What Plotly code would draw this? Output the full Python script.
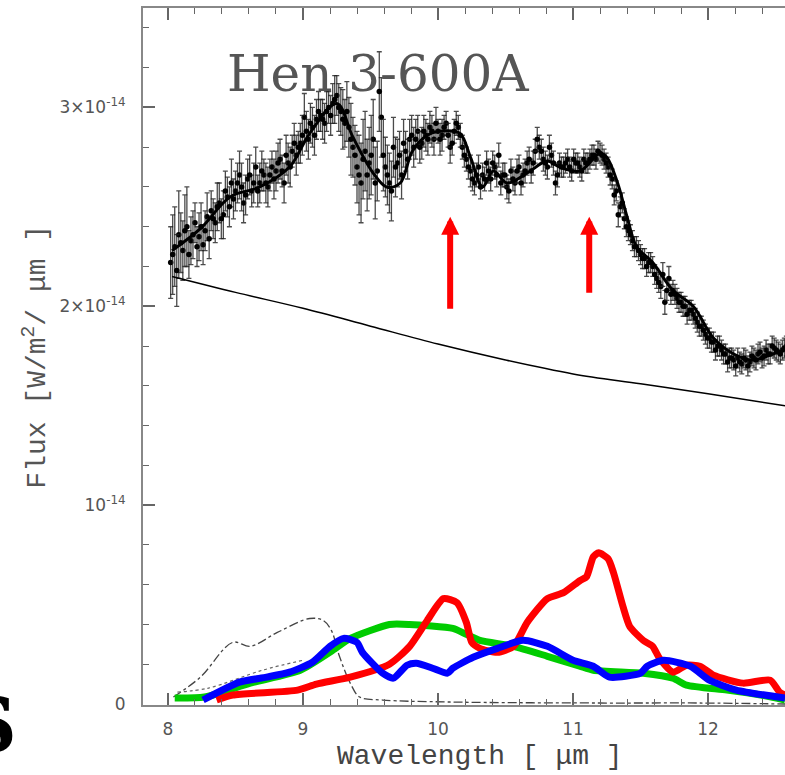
import plotly.graph_objects as go

FLUX_UNIT = 1e-14

# Observed spectrum, set A (wavelength in micron, flux and error in units of 1e-14 W/m^2/um)
obs_wl = [8.02, 8.05, 8.08, 8.11, 8.14, 8.17, 8.20, 8.23, 8.26, 8.29, 8.32, 8.35, 8.38, 8.41, 8.44,
          8.47, 8.50, 8.53, 8.56, 8.59, 8.62, 8.65, 8.68, 8.71, 8.74, 8.77, 8.80, 8.83, 8.86, 8.89,
          8.92, 8.95, 8.98, 9.01, 9.04, 9.07, 9.10, 9.13, 9.16, 9.19, 9.22, 9.25, 9.28, 9.31, 9.34,
          9.37, 9.40, 9.43, 9.46, 9.49, 9.52, 9.55, 9.58, 9.61, 9.64, 9.67, 9.70, 9.73, 9.76, 9.79,
          9.82, 9.85, 9.88, 9.91, 9.94, 9.97, 10.00, 10.03, 10.06, 10.09, 10.12, 10.15, 10.18, 10.21,
          10.24, 10.27, 10.30, 10.33, 10.36, 10.39, 10.42, 10.45, 10.48, 10.51, 10.54, 10.57, 10.60,
          10.63, 10.66, 10.69, 10.72, 10.75, 10.78, 10.81, 10.84, 10.87, 10.90, 10.93, 10.96, 10.99,
          11.02, 11.05, 11.08, 11.11, 11.14, 11.17, 11.20, 11.23, 11.26, 11.29, 11.32, 11.35, 11.38,
          11.41, 11.44, 11.47, 11.50, 11.53, 11.56, 11.59, 11.62, 11.65, 11.68, 11.71, 11.74, 11.77,
          11.80, 11.83, 11.86, 11.89, 11.92, 11.95, 11.98, 12.01, 12.04, 12.07, 12.10, 12.13, 12.16,
          12.19, 12.22, 12.25, 12.28, 12.31, 12.34, 12.37, 12.40, 12.43, 12.46, 12.49, 12.52, 12.55,
          12.58]
obs_flux = [2.22, 2.30, 2.36, 2.28, 2.40, 2.33, 2.42, 2.35, 2.31, 2.45, 2.48, 2.42, 2.52, 2.46, 2.55,
            2.62, 2.58, 2.66, 2.52, 2.64, 2.58, 2.70, 2.62, 2.66, 2.60, 2.70, 2.68, 2.74, 2.62, 2.72,
            2.78, 2.76, 2.82, 2.95, 2.84, 2.90, 2.94, 2.96, 2.92, 3.00, 3.02, 3.06, 2.98, 2.92, 2.90,
            2.80, 2.70, 2.62, 2.78, 2.72, 2.84, 2.68, 2.95, 2.70, 2.62, 2.80, 2.72, 2.66, 2.78, 2.84,
            2.80, 2.88, 2.82, 2.86, 2.90, 2.84, 2.88, 2.86, 2.92, 2.80, 2.88, 2.90, 2.80, 2.74,
            2.68, 2.62, 2.70, 2.66, 2.72, 2.64, 2.70, 2.76, 2.66, 2.60, 2.68, 2.62, 2.70,
            2.66, 2.72, 2.68, 2.78, 2.80, 2.74, 2.70, 2.76, 2.62, 2.72, 2.70, 2.74, 2.68,
            2.72, 2.70, 2.74, 2.72, 2.76, 2.74, 2.77, 2.74, 2.70, 2.64, 2.58, 2.50, 2.44,
            2.38, 2.33, 2.30, 2.26, 2.24, 2.22, 2.20, 2.14, 2.10, 2.02, 2.14, 2.08, 2.04,
            2.02, 2.00, 1.98, 1.96, 1.92, 1.90, 1.86, 1.84, 1.82, 1.80, 1.78, 1.76, 1.74,
            1.73, 1.74, 1.71, 1.73, 1.72, 1.74, 1.76, 1.74, 1.78, 1.76, 1.79, 1.77, 1.78,
            1.80]
obs_err = [0.18, 0.20, 0.22, 0.15, 0.20, 0.12, 0.10, 0.12, 0.10, 0.12, 0.10, 0.10, 0.10, 0.12, 0.10,
           0.12, 0.10, 0.12, 0.10, 0.10, 0.08, 0.10, 0.10, 0.08, 0.10, 0.08, 0.10, 0.10, 0.10, 0.10,
           0.08, 0.10, 0.10, 0.12, 0.10, 0.10, 0.10, 0.08, 0.10, 0.08, 0.10, 0.10, 0.12, 0.12, 0.15,
           0.15, 0.18, 0.20, 0.20, 0.18, 0.20, 0.15, 0.20, 0.15, 0.15, 0.15, 0.12, 0.12, 0.10, 0.10,
           0.10, 0.08, 0.08, 0.08, 0.08, 0.08, 0.06, 0.08, 0.06, 0.08, 0.06, 0.06, 0.06, 0.06,
           0.08, 0.06, 0.06, 0.06, 0.06, 0.06, 0.06, 0.06, 0.06, 0.06, 0.06, 0.06, 0.06,
           0.06, 0.06, 0.06, 0.06, 0.06, 0.06, 0.06, 0.06, 0.06, 0.05, 0.05, 0.05, 0.05,
           0.05, 0.05, 0.05, 0.05, 0.05, 0.05, 0.05, 0.05, 0.05, 0.05, 0.05, 0.05, 0.05,
           0.05, 0.05, 0.05, 0.05, 0.05, 0.05, 0.05, 0.05, 0.06, 0.06, 0.06, 0.05, 0.05,
           0.05, 0.05, 0.05, 0.05, 0.05, 0.05, 0.05, 0.05, 0.05, 0.05, 0.05, 0.05, 0.05,
           0.05, 0.05, 0.05, 0.05, 0.05, 0.05, 0.05, 0.05, 0.05, 0.05, 0.05, 0.05, 0.05,
           0.05]

# Observed spectrum, set B (interleaved points)
obs2_wl = [8.035, 8.065, 8.095, 8.125, 8.155, 8.185, 8.215, 8.245, 8.275, 8.305, 8.335, 8.365, 8.395,
           8.425, 8.455, 8.485, 8.515, 8.545, 8.575, 8.605, 8.635, 8.665, 8.695, 8.725, 8.755, 8.785,
           8.815, 8.845, 8.875, 8.905, 8.935, 8.965, 8.995, 9.025, 9.055, 9.085, 9.115, 9.145, 9.175,
           9.205, 9.235, 9.265, 9.295, 9.325, 9.355, 9.385, 9.415, 9.445, 9.475, 9.505, 9.535, 9.565,
           9.595, 9.625, 9.655, 9.685, 9.715, 9.745, 9.775, 9.805, 9.835, 9.865, 9.895, 9.925, 9.955,
           9.985, 10.015, 10.045, 10.075, 10.105, 10.135, 10.165, 10.195, 10.225, 10.255, 10.285,
           10.315, 10.345, 10.375, 10.405, 10.435, 10.465, 10.495, 10.525, 10.555, 10.585, 10.615,
           10.645, 10.675, 10.705, 10.735, 10.765, 10.795, 10.825, 10.855, 10.885, 10.915, 10.945,
           10.975, 11.005, 11.035, 11.065, 11.095, 11.125, 11.155, 11.185, 11.215, 11.245, 11.275,
           11.305, 11.335, 11.365, 11.395, 11.425, 11.455, 11.485, 11.515, 11.545, 11.575, 11.605,
           11.635, 11.665, 11.695, 11.725, 11.755, 11.785, 11.815, 11.845, 11.875, 11.905, 11.935,
           11.965, 11.995, 12.025, 12.055, 12.085, 12.115, 12.145, 12.175, 12.205, 12.235, 12.265,
           12.295, 12.325, 12.355, 12.385, 12.415, 12.445, 12.475, 12.505, 12.535, 12.565]
obs2_flux = [2.26, 2.18, 2.32, 2.38, 2.26, 2.36, 2.30, 2.40, 2.38, 2.34, 2.44, 2.50, 2.44,
             2.58, 2.50, 2.54, 2.62, 2.60, 2.56, 2.66, 2.62, 2.58, 2.68, 2.62, 2.66, 2.64,
             2.72, 2.68, 2.76, 2.70, 2.82, 2.80, 2.86, 2.88, 2.92, 2.86, 2.98, 2.94, 2.98,
             2.96, 3.04, 3.00, 2.94, 2.98, 2.84, 2.76, 2.66, 2.74, 2.66, 2.76, 2.62, 3.08,
             2.76, 2.66, 2.58, 2.70, 2.76, 2.82, 2.74, 2.86, 2.84, 2.80, 2.88, 2.84, 2.88,
             2.92, 2.84, 2.90, 2.86, 2.82, 2.92, 2.86, 2.76, 2.70, 2.64, 2.66,
             2.60, 2.64, 2.68, 2.72, 2.66, 2.62, 2.66, 2.58, 2.64, 2.68, 2.62,
             2.68, 2.74, 2.72, 2.84, 2.78, 2.72, 2.80, 2.72, 2.66, 2.70, 2.72,
             2.70, 2.74, 2.72, 2.68, 2.72, 2.74, 2.76, 2.78, 2.76, 2.72, 2.66,
             2.56, 2.46, 2.52, 2.40, 2.36, 2.30, 2.28, 2.24, 2.20, 2.22, 2.16,
             2.12, 2.16, 2.08, 2.06, 2.06, 2.02, 2.00, 1.96, 1.98, 1.94, 1.90,
             1.88, 1.84, 1.82, 1.78, 1.80, 1.76, 1.72, 1.74, 1.70, 1.72, 1.74,
             1.70, 1.75, 1.73, 1.77, 1.75, 1.76, 1.80, 1.78, 1.76, 1.79]
obs2_err = [0.20, 0.18, 0.15, 0.18, 0.12, 0.12, 0.10, 0.12, 0.10, 0.10, 0.10, 0.12, 0.10,
            0.10, 0.10, 0.10, 0.10, 0.12, 0.10, 0.10, 0.10, 0.08, 0.10, 0.10, 0.08, 0.10,
            0.10, 0.08, 0.10, 0.10, 0.10, 0.08, 0.10, 0.10, 0.10, 0.10, 0.10, 0.10, 0.10,
            0.10, 0.12, 0.12, 0.15, 0.15, 0.18, 0.15, 0.20, 0.20, 0.18, 0.20, 0.18, 0.20,
            0.18, 0.15, 0.15, 0.15, 0.12, 0.12, 0.10, 0.10, 0.10, 0.08, 0.08, 0.08, 0.08,
            0.08, 0.08, 0.06, 0.06, 0.06, 0.06, 0.06, 0.06, 0.06, 0.06, 0.06,
            0.06, 0.06, 0.06, 0.06, 0.06, 0.06, 0.06, 0.06, 0.06, 0.06, 0.06,
            0.06, 0.06, 0.06, 0.06, 0.06, 0.06, 0.06, 0.06, 0.06, 0.05, 0.05,
            0.05, 0.05, 0.05, 0.05, 0.05, 0.05, 0.05, 0.05, 0.05, 0.05, 0.05,
            0.05, 0.06, 0.05, 0.05, 0.05, 0.05, 0.05, 0.05, 0.05, 0.05, 0.05,
            0.05, 0.06, 0.05, 0.05, 0.05, 0.05, 0.05, 0.05, 0.05, 0.05, 0.05,
            0.05, 0.05, 0.05, 0.05, 0.05, 0.05, 0.05, 0.05, 0.05, 0.05, 0.05,
            0.05, 0.05, 0.05, 0.05, 0.05, 0.05, 0.05, 0.05, 0.05, 0.05]

# Model fit through the spectrum
fit_wl = [8.03, 8.24, 8.46, 8.68, 8.90, 9.05, 9.25, 9.37, 9.52, 9.62, 9.72, 9.81, 9.92, 10.01,
          10.16, 10.24, 10.33, 10.41, 10.51, 10.66, 10.81, 10.90, 11.05, 11.20, 11.25, 11.33,
          11.40, 11.47, 11.59, 11.74, 11.89, 12.04, 12.19, 12.33, 12.48, 12.57]
fit_flux = [2.28, 2.39, 2.55, 2.60, 2.70, 2.87, 3.02, 2.85, 2.67, 2.60, 2.62, 2.78, 2.86, 2.88,
            2.87, 2.75, 2.60, 2.68, 2.62, 2.67, 2.73, 2.70, 2.68, 2.77, 2.75, 2.62,
            2.45, 2.30, 2.22, 2.08, 2.00, 1.84, 1.76, 1.73, 1.76, 1.78]

# Continuum
cont_wl = [8.03, 8.5, 9.0, 9.5, 10.0, 10.5, 11.0, 11.5, 12.0, 12.57]
cont_flux = [2.15, 2.07, 1.99, 1.90, 1.81, 1.73, 1.66, 1.61, 1.56, 1.50]

# Dust components
green_wl = [8.05, 8.27, 8.61, 8.98, 9.22, 9.35, 9.64, 9.79, 10.11, 10.21, 10.31, 10.56, 10.81,
            11.05, 11.15, 11.52, 11.74, 11.84, 12.14, 12.39, 12.57]
green_flux = [0.03, 0.035, 0.105, 0.17, 0.27, 0.33, 0.40, 0.40, 0.38, 0.35, 0.32, 0.29, 0.24,
              0.19, 0.17, 0.155, 0.13, 0.095, 0.07, 0.045, 0.02]

blue_wl = [8.26, 8.53, 8.73, 8.90, 9.07, 9.20, 9.30, 9.40, 9.44, 9.59, 9.67, 9.77, 9.84, 9.96,
           10.07, 10.11, 10.26, 10.44, 10.63, 10.81, 11.00, 11.15, 11.27, 11.50, 11.55, 11.67,
           11.87, 12.01, 12.21, 12.57]
blue_flux = [0.02, 0.11, 0.135, 0.16, 0.21, 0.29, 0.33, 0.31, 0.26, 0.155, 0.13, 0.195, 0.205, 0.18,
             0.155, 0.18, 0.235, 0.28, 0.32, 0.29, 0.22, 0.19, 0.135, 0.155, 0.19, 0.22,
             0.19, 0.12, 0.07, 0.03]

red_wl = [8.36, 8.48, 8.96, 9.10, 9.35, 9.64, 9.79, 9.92, 10.04, 10.14, 10.21, 10.25, 10.31,
          10.44, 10.56, 10.66, 10.81, 10.93, 11.05, 11.10, 11.15, 11.19, 11.26, 11.30, 11.37,
          11.42, 11.52, 11.59, 11.64, 11.74, 11.84, 11.94, 12.04, 12.26, 12.46, 12.53, 12.57]
red_flux = [0.02, 0.045, 0.07, 0.10, 0.135, 0.20, 0.29, 0.42, 0.53, 0.51, 0.41, 0.31, 0.28,
            0.26, 0.29, 0.41, 0.53, 0.56, 0.62, 0.64, 0.74, 0.76, 0.73, 0.66, 0.49,
            0.39, 0.32, 0.29, 0.23, 0.16, 0.195, 0.19, 0.145, 0.105, 0.12, 0.06, 0.045]

dashdot_wl = [8.04, 8.24, 8.48, 8.61, 8.81, 9.05, 9.15, 9.21, 9.27, 9.35, 9.42, 9.59, 10.09,
              11.2, 11.94, 12.57]
dashdot_flux = [0.035, 0.135, 0.31, 0.29, 0.36, 0.43, 0.42, 0.37, 0.24, 0.105, 0.035, 0.02, 0.01,
                0.005, 0.005, 0.0]

dotted_wl = [8.07, 8.30, 8.70, 9.00]
dotted_flux = [0.06, 0.08, 0.17, 0.22]

# Feature markers (red arrows): wavelength, tip flux, tail flux
arrow_wl = [10.09, 11.12]
arrow_tip = [2.45, 2.45]
arrow_tail = [1.98, 2.06]

ytick_vals = [0, 1, 2, 3]
ytick_text = ["0", "10<sup>-14</sup>", "2×10<sup>-14</sup>", "3×10<sup>-14</sup>"]
xtick_vals = [8, 9, 10, 11, 12]


def sc(vals):
    return [v * FLUX_UNIT for v in vals]


fig = go.Figure()

for wl, fl, er in [(obs_wl, obs_flux, obs_err), (obs2_wl, obs2_flux, obs2_err)]:
    fig.add_trace(go.Scatter(
        x=wl, y=sc(fl), mode="markers",
        marker=dict(color="black", size=5.5),
        error_y=dict(type="data", array=sc(er), color="rgba(30,30,30,0.8)", thickness=1.3, width=2.5),
        showlegend=False))

fig.add_trace(go.Scatter(x=fit_wl, y=sc(fit_flux), mode="lines", line=dict(color="black", width=3, shape="spline"),
                         showlegend=False))
fig.add_trace(go.Scatter(x=cont_wl, y=sc(cont_flux), mode="lines", line=dict(color="black", width=1.5, shape="spline"),
                         showlegend=False))
fig.add_trace(go.Scatter(x=dashdot_wl, y=sc(dashdot_flux), mode="lines",
                         line=dict(color="#444", width=1.3, dash="dashdot", shape="spline"), showlegend=False))
fig.add_trace(go.Scatter(x=dotted_wl, y=sc(dotted_flux), mode="lines",
                         line=dict(color="#666", width=1.2, dash="dot", shape="spline"), showlegend=False))
fig.add_trace(go.Scatter(x=green_wl, y=sc(green_flux), mode="lines",
                         line=dict(color="#00cc00", width=7, shape="spline", smoothing=0.6), showlegend=False))
fig.add_trace(go.Scatter(x=red_wl, y=sc(red_flux), mode="lines",
                         line=dict(color="#ff0000", width=7, shape="spline", smoothing=0.6), showlegend=False))
fig.add_trace(go.Scatter(x=blue_wl, y=sc(blue_flux), mode="lines",
                         line=dict(color="#0000ff", width=7, shape="spline", smoothing=0.6), showlegend=False))

for wl, tip, tail in zip(arrow_wl, arrow_tip, arrow_tail):
    fig.add_annotation(x=wl, y=tip * FLUX_UNIT, ax=wl, ay=tail * FLUX_UNIT, xref="x", yref="y",
                       axref="x", ayref="y", text="", showarrow=True, arrowhead=2,
                       arrowsize=0.6, arrowwidth=6, arrowcolor="#ff0000")

fig.add_annotation(xref="paper", yref="paper", x=0.366, y=0.906, text="Hen 3-600A", showarrow=False,
                   font=dict(family="DejaVu Serif", size=50, color="#555"), xanchor="center", yanchor="middle")

fig.add_annotation(xref="paper", yref="paper", x=-0.168, y=0.50, textangle=-90,
                   text="Flux [W/m<sup>2</sup>/ μm ]", showarrow=False,
                   font=dict(family="Liberation Mono", size=28, color="#555"), xanchor="center", yanchor="middle")
fig.add_annotation(xref="paper", yref="paper", x=-0.0 + 0.525, y=-0.0746,
                   text="Wavelength [ μm ]", showarrow=False,
                   font=dict(family="Liberation Mono", size=28, color="#444"), xanchor="center", yanchor="middle")
# Partial glyph of a neighbouring panel label, cut by the left edge
fig.add_annotation(xref="paper", yref="paper", x=-0.1931, y=-0.03, text="<b>S</b>", showarrow=False,
                   font=dict(family="DejaVu Serif", size=76, color="black"), xanchor="right", yanchor="middle")

axis_common = dict(showgrid=False, zeroline=False, showline=True, linecolor="#888", linewidth=2,
                   ticks="inside", tickcolor="#666", tickwidth=1.5, ticklen=12,
                   tickfont=dict(family="DejaVu Sans", size=17, color="#555"))

fig.update_xaxes(range=[7.815, 12.57], tickvals=xtick_vals, mirror="allticks",
                 minor=dict(dtick=0.2, tick0=8, ticks="inside", ticklen=6, tickcolor="#666", tickwidth=1.2),
                 ticklabelstandoff=8, **axis_common)
fig.update_yaxes(range=[-0.005e-14, 3.5e-14], tickvals=[v * FLUX_UNIT for v in ytick_vals], ticktext=ytick_text,
                 minor=dict(dtick=0.2e-14, tick0=0, ticks="inside", ticklen=6, tickcolor="#666", tickwidth=1.2),
                 ticklabelstandoff=12, **axis_common)

# Figure fills the whole window; the page's default body margin is removed below.
fig.update_layout(width=785, height=775, margin=dict(l=143, r=0, t=8, b=70),
                  plot_bgcolor="white", paper_bgcolor="white", showlegend=False)

fig.write_html("out.html", config={"displayModeBar": False},
               post_script="document.body.style.margin='0';"
                           "document.documentElement.style.overflow='hidden';"
                           "document.body.style.overflow='hidden';")
